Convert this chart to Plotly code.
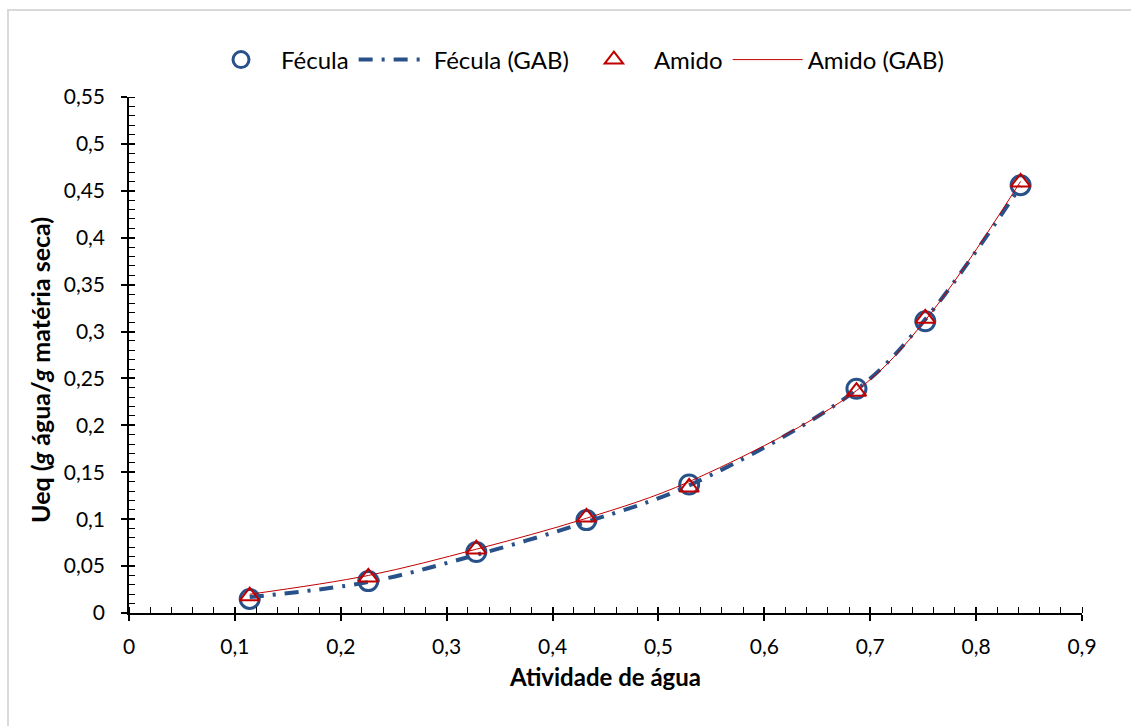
import plotly.graph_objects as go

# Data
aw = [0.114, 0.226, 0.328, 0.432, 0.529, 0.687, 0.752, 0.842]
fecula = [0.015, 0.034, 0.065, 0.099, 0.137, 0.239, 0.311, 0.456]
amido = [0.018, 0.038, 0.068, 0.102, 0.134, 0.236, 0.314, 0.459]
fecula_gab = [0.017, 0.033, 0.062, 0.097, 0.136, 0.238, 0.313, 0.455]
amido_gab = [0.020, 0.040, 0.068, 0.101, 0.140, 0.237, 0.312, 0.460]

BLUE = "#285189"
RED = "#c00000"
FONT = "Lato"
FS = 21

fig = go.Figure()
fig.add_trace(go.Scatter(x=aw, y=fecula, mode="markers", name="Fécula",
                         marker=dict(symbol="circle-open", size=19, color=BLUE, line=dict(width=3, color=BLUE))))
fig.add_trace(go.Scatter(x=aw, y=fecula_gab, mode="lines", name="Fécula (GAB)", line_shape="spline",
                         line=dict(color=BLUE, width=4, dash="14px,9px,3px,9px")))
fig.add_trace(go.Scatter(x=aw, y=amido, mode="markers", name="Amido",
                         marker=dict(symbol="triangle-up-open", size=17, color=RED, line=dict(width=2, color=RED))))
fig.add_trace(go.Scatter(x=aw, y=amido_gab, mode="lines", name="Amido (GAB)", line_shape="spline",
                         line=dict(color=RED, width=1)))

# overlay axes for inner part of major ticks
fig.add_trace(go.Scatter(x=[None], y=[None], xaxis="x2", yaxis="y2", showlegend=False))

W, H = 1131, 726
L, R, T, B = 129, 49, 97, 113
pw, ph = W - L - R, H - T - B

def px2x(p):
    return (p - L) / pw

def px2y(p):
    return (H - B - p) / ph

fig.update_layout(
    width=W, height=H,
    margin=dict(l=L, r=R, t=T, b=B),
    paper_bgcolor="white", plot_bgcolor="white",
    separators=", ",
    font=dict(family=FONT, size=FS, color="black"),
    xaxis=dict(range=[0, 0.9], dtick=0.1, tick0=0, showgrid=False, zeroline=False,
               showline=True, linecolor="black", linewidth=1.5,
               ticks="outside", ticklen=6, tickwidth=1.5, tickcolor="black",
               ticklabelstandoff=8,
               minor=dict(dtick=0.02, ticks="inside", ticklen=6, tickwidth=1, tickcolor="black"),
               title=dict(text="<b>Atividade de água</b>", font=dict(size=24), standoff=12),
               tickfont=dict(size=FS)),
    yaxis=dict(range=[0, 0.55], dtick=0.05, tick0=0, showgrid=False, zeroline=False,
               showline=True, linecolor="black", linewidth=1.5,
               ticks="outside", ticklen=6, tickwidth=1.5, tickcolor="black",
               ticklabelstandoff=12,
               minor=dict(dtick=0.01, ticks="inside", ticklen=6, tickwidth=1, tickcolor="black"),
               tickfont=dict(size=FS)),
    xaxis2=dict(range=[0, 0.9], dtick=0.1, tick0=0, overlaying="x", anchor="y", side="bottom",
                showgrid=False, zeroline=False, showline=False, showticklabels=False,
                ticks="inside", ticklen=6, tickwidth=1.5, tickcolor="black"),
    yaxis2=dict(range=[0, 0.55], dtick=0.05, tick0=0, overlaying="y", anchor="x", side="left",
                showgrid=False, zeroline=False, showline=False, showticklabels=False,
                ticks="inside", ticklen=6, tickwidth=1.5, tickcolor="black"),
    legend=dict(orientation="h", x=0.468, xanchor="center", y=px2y(60), yanchor="middle",
                font=dict(size=24), bgcolor="rgba(0,0,0,0)", itemwidth=70, tracegroupgap=0),
    annotations=[dict(text="<b>Ueq (<i>g</i> água/<i>g</i> matéria seca)</b>", textangle=-90,
                      xref="paper", yref="paper", x=px2x(40), y=px2y(370),
                      xanchor="center", yanchor="middle", showarrow=False,
                      font=dict(size=25, family=FONT, color="black"))],
    shapes=[dict(type="rect", xref="paper", yref="paper",
                 x0=px2x(8), x1=px2x(1140), y0=px2y(740), y1=px2y(10),
                 line=dict(color="#d9d9d9", width=2), fillcolor="rgba(0,0,0,0)", layer="below")],
)

fig.write_html("out.html")
